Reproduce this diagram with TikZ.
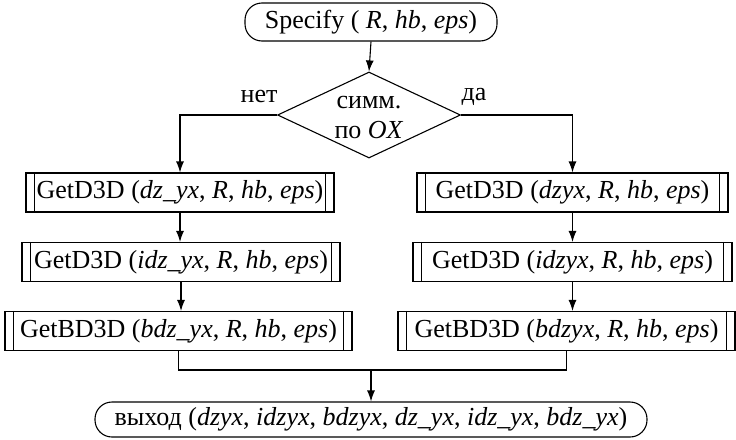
\documentclass[tikz,border=0pt]{standalone}
\usepackage{fontspec}
\setmainfont{Liberation Serif}
\usetikzlibrary{shapes.geometric,arrows.meta,calc}
\tikzset{
  base/.style={draw,line width=1.1pt,inner sep=0pt,font=\fontsize{26}{30}\selectfont},
  term/.style={base,rounded corners=17pt,minimum height=38pt},
  proc/.style={base,minimum height=39pt},
  decision/.style={draw,line width=1.1pt,shape=diamond,inner sep=0pt,minimum width=183pt,minimum height=86pt},
  lbl/.style={inner sep=0pt,font=\fontsize{26}{30}\selectfont},
  arr/.style={line width=1.1pt,-{Latex[length=11pt,width=8pt]}},
  ln/.style={line width=1.1pt},
}
\newcommand{\bars}[1]{%
  \draw[ln] ([xshift=9pt]#1.north west) -- ([xshift=9pt]#1.south west);
  \draw[ln] ([xshift=-9pt]#1.north east) -- ([xshift=-9pt]#1.south east);}
\begin{document}
\begin{tikzpicture}[x=1pt,y=-1pt]
\useasboundingbox (0,0) rectangle (736,439);
\node[term,minimum width=252pt] (spec) at (371,22) {Specify ( \textit{R}, \textit{hb}, \textit{eps})};
\node[decision] (dec) at (369,115) {};
\node[lbl,align=center] (dect) at (369,117) {симм.\\по \textit{OX}};
\node[lbl] (no) at (259,97) {нет};
\node[lbl] (yes) at (474,97) {да};

\node[proc,minimum width=308pt] (l1) at (180,192.5) {GetD3D (\textit{dz\_yx}, \textit{R}, \textit{hb}, \textit{eps})};
\node[proc,minimum width=318pt] (l2) at (181,262) {GetD3D (\textit{idz\_yx}, \textit{R}, \textit{hb}, \textit{eps})};
\node[proc,minimum width=347pt] (l3) at (178.5,331) {GetBD3D (\textit{bdz\_yx}, \textit{R}, \textit{hb}, \textit{eps})};

\node[proc,minimum width=311pt] (r1) at (572.5,192.5) {GetD3D (\textit{dzyx}, \textit{R}, \textit{hb}, \textit{eps})};
\node[proc,minimum width=319pt] (r2) at (572.5,262) {GetD3D (\textit{idzyx}, \textit{R}, \textit{hb}, \textit{eps})};
\node[proc,minimum width=337pt] (r3) at (566.5,331) {GetBD3D (\textit{bdzyx}, \textit{R}, \textit{hb}, \textit{eps})};

\node[term,minimum width=552pt,minimum height=35pt] (out) at (371,419.5) {выход (\textit{dzyx}, \textit{idzyx}, \textit{bdzyx}, \textit{dz\_yx}, \textit{idz\_yx}, \textit{bdz\_yx})};

\bars{l1}\bars{l2}\bars{l3}\bars{r1}\bars{r2}\bars{r3}

\draw[arr] (spec.south) -- (dec.north);
\draw[arr] (dec.west) -| (l1.north);
\draw[arr] (dec.east) -| (r1.north);
\draw[arr] (l1.south) -- (l1.south |- l2.north);
\draw[arr] (l2.south) -- (l2.south |- l3.north);
\draw[arr] (r1.south) -- (r1.south |- r2.north);
\draw[arr] (r2.south) -- (r2.south |- r3.north);
\coordinate (m) at (371,370);
\draw[ln] (l3.south) |- (m) -| (r3.south);
\draw[arr] (m) -- (out.north);
\end{tikzpicture}
\end{document}
